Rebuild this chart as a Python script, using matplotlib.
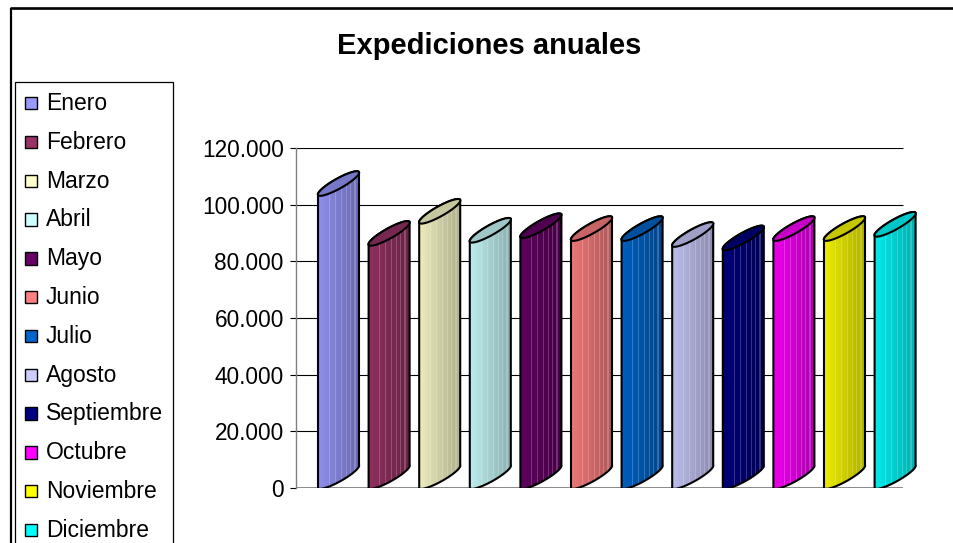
import numpy as np
import matplotlib
matplotlib.use("Agg")
import matplotlib.pyplot as plt
from matplotlib.patches import Polygon, Rectangle
from matplotlib.ticker import FuncFormatter

plt.rcParams['font.family'] = ['Liberation Sans', 'DejaVu Sans']

### data
meses = ['Enero', 'Febrero', 'Marzo', 'Abril', 'Mayo', 'Junio', 'Julio',
         'Agosto', 'Septiembre', 'Octubre', 'Noviembre', 'Diciembre']
expediciones = [103400, 85800, 93600, 86900, 88500, 87500, 87500,
                85400, 84200, 87500, 87500, 89000]
colores = ['#9999FF', '#993366', '#FFFFCC', '#CCFFFF', '#660066', '#FF8080',
           '#0066CC', '#CCCCFF', '#000080', '#FF00FF', '#FFFF00', '#00FFFF']
titulo = 'Expediciones anuales'
yticks = [0, 20000, 40000, 60000, 80000, 100000, 120000]

### geometry (pixels -> data)
W, H = 954, 543
px_cat = 50.6            # pixels per category
px_val = 340 / 120000    # pixels per unit
x0px = 338.5             # pixel of category 0 (cylinder centre)

def cat(px):
    return (px - x0px) / px_cat

# half axes of the cylinder section (oblique view), in data units
ux, uy = 20.5 / px_cat, 11.5 / px_val
vx, vy = -2.45 / px_cat, 4.36 / px_val

def elipse(cx, cy, t):
    return np.column_stack([cx + ux * np.cos(t) + vx * np.sin(t),
                            cy + uy * np.cos(t) + vy * np.sin(t)])

fig = plt.figure(figsize=(W / 100, H / 100), dpi=100)

# overlay for frame, title and legend
ov = fig.add_axes([0, 0, 1, 1])
ov.set_xlim(0, W)
ov.set_ylim(H, 0)
ov.axis('off')
ov.plot([10, W], [8, 8], color='black', lw=1.9, solid_capstyle='butt')
ov.plot([11, 11], [8, H], color='black', lw=1.6, solid_capstyle='butt')
ov.text(489.5, 54, titulo, ha='center', va='baseline', fontsize=21,
        fontweight='bold')
ov.add_patch(Rectangle((15.5, 82), 157.5, 480, fill=False, edgecolor='black', lw=0.9))
for k, (m, c) in enumerate(zip(meses, colores)):
    y = 97 + 38.8 * k
    ov.add_patch(Rectangle((25, y), 12.3, 12.3, facecolor=c, edgecolor='black', lw=1.0))
    ov.text(46, 110 + 38.8 * k, m, fontsize=16.5, va='baseline', ha='left')

# main axes
ax = fig.add_axes([296 / W, (H - 488) / H, (925 - 296) / W, 340 / H])
ax.patch.set_alpha(0)
for s in ['top', 'right', 'bottom']:
    ax.spines[s].set_visible(False)
ax.spines['left'].set_color('#808080')
ax.spines['left'].set_linewidth(1.0)
ax.set_xticks([])
ax.set_yticks(yticks)
ax.yaxis.set_major_formatter(FuncFormatter(lambda v, p: f"{int(v):,}".replace(",", ".")))
ax.tick_params(axis='y', length=4.5, width=0.8, color='black', pad=4.3, labelsize=16.3)
ax.hlines(yticks[1:], cat(296), cat(903), colors='black', lw=0.8, zorder=1)
ax.hlines([0], cat(296), cat(903), colors='#808080', lw=1.3, zorder=1)

# cylinders
t_up = np.linspace(np.pi, 0, 60)
t_lo = np.linspace(0, -np.pi, 60)
t_all = np.linspace(0, 2 * np.pi, 120)
facetas = [0.27, 0.41, 0.57, 0.68, 0.77, 0.88]
ncol = 300
frac = (np.arange(ncol) + 0.5) / ncol
for i, (val, c) in enumerate(zip(expediciones, colores)):
    base = np.array(matplotlib.colors.to_rgb(c))
    top = elipse(i, val + uy, t_up)
    bot = elipse(i, uy, t_lo)
    sil = Polygon(np.vstack([top, bot]), closed=True, facecolor='none',
                  edgecolor='black', lw=1.5, zorder=3, transform=ax.transData)
    ax.add_patch(sil)

    fac = 0.93 - 0.25 * frac
    img = base[None, :] * fac[:, None]
    for f in facetas:
        sel = np.abs(frac - f) < 0.012
        img[sel] = img[sel] * 0.8 + 0.2
    img = np.clip(img, 0, 1)[None, :, :]
    xl, xr = i - 20.65 / px_cat, i + 20.65 / px_cat
    im = ax.imshow(img, extent=(xl, xr, 0, val + 2 * uy + 2 * vy), aspect='auto',
                   interpolation='nearest', origin='lower', zorder=2)
    im.set_clip_path(sil)

    tapa = Polygon(elipse(i, val + uy, t_all), closed=True, facecolor=base * 0.78,
                   edgecolor='black', lw=1.5, zorder=4)
    ax.add_patch(tapa)

ax.set_xlim(cat(296), cat(925))
ax.set_ylim(0, 120000)

fig.savefig('out.png', dpi=100)
